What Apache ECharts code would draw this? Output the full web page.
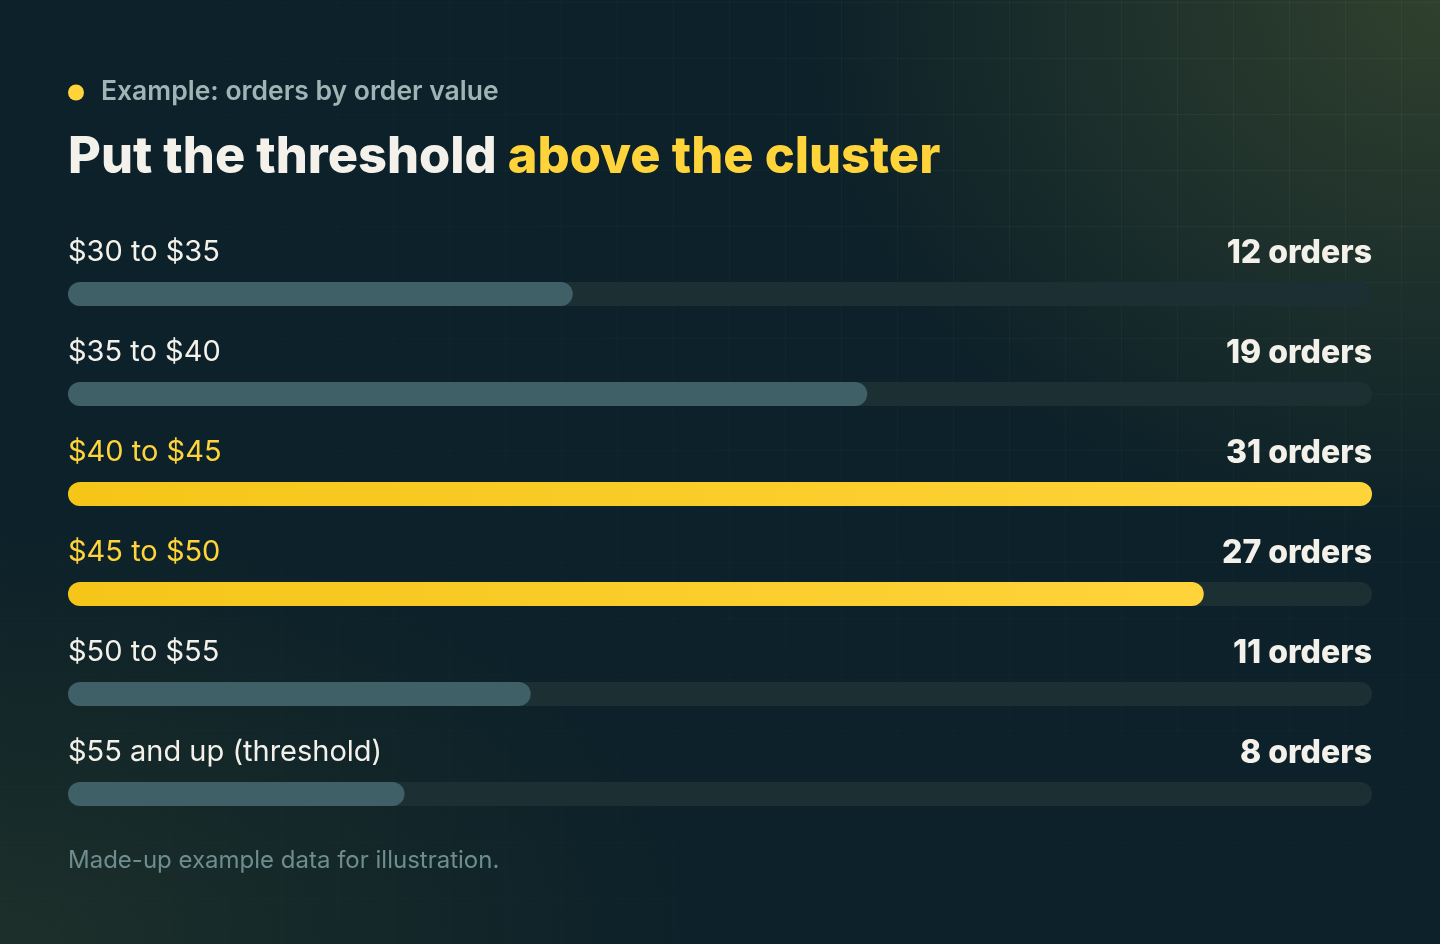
<!DOCTYPE html>
<html>
<head>
<meta charset="utf-8">
<script src="https://cdn.jsdelivr.net/npm/echarts@6/dist/echarts.min.js"></script>
<style>
  html, body { margin: 0; padding: 0; width: 1440px; height: 944px; overflow: hidden; }
  body {
    position: relative;
    background:
      radial-gradient(ellipse 640px 540px at 100% 0%, rgba(52,68,46,0.9), rgba(52,68,46,0) 100%),
      radial-gradient(ellipse 700px 420px at 0% 100%, rgba(34,52,42,0.75), rgba(34,52,42,0) 100%),
      #0c2129;
  }
  #grid {
    position: absolute; inset: 0;
    background-image:
      linear-gradient(to right, rgba(255,255,255,0.04) 1px, transparent 1px),
      linear-gradient(to bottom, rgba(255,255,255,0.04) 1px, transparent 1px);
    background-size: 56px 56px;
    background-position: 1px 2px;
    -webkit-mask-image: radial-gradient(ellipse 1100px 800px at 85% 10%, #000 0%, rgba(0,0,0,0.4) 70%, rgba(0,0,0,0.25) 100%);
    mask-image: radial-gradient(ellipse 1100px 800px at 85% 10%, #000 0%, rgba(0,0,0,0.4) 70%, rgba(0,0,0,0.25) 100%);
  }
  #chart { position: absolute; left: 0; top: 0; width: 1440px; height: 944px; }
</style>
</head>
<body>
<div id="grid"></div>
<div id="chart"></div>
<script>
const categories = ['$30 to $35', '$35 to $40', '$40 to $45', '$45 to $50', '$50 to $55', '$55 and up (threshold)'];
const orders = [12, 19, 31, 27, 11, 8];
const highlighted = [false, false, true, true, false, false];
const valueLabels = ['12 orders', '19 orders', '31 orders', '27 orders', '11 orders', '8 orders'];

const CREAM = '#f4f1ea';
const YELLOW = '#ffd43b';
const GRAY = '#3e6066';
const TRACK = '#1c3034';
const FONT = 'Inter, "Noto Sans", sans-serif';

const yellowGrad = new echarts.graphic.LinearGradient(0, 0, 1, 0, [
  { offset: 0, color: '#f5c518' },
  { offset: 1, color: '#ffd43b' }
]);

const barData = orders.map((v, i) => ({
  value: v,
  itemStyle: { color: highlighted[i] ? yellowGrad : GRAY },
  label: { color: highlighted[i] ? YELLOW : CREAM }
}));

const chart = echarts.init(document.getElementById('chart'), null, { renderer: 'canvas' });
chart.setOption({
  backgroundColor: 'transparent',
  animation: false,
  title: [
    {
      left: 68, top: 79, padding: 0,
      text: '{dot|}{t|Example: orders by order value}',
      textStyle: {
        rich: {
          dot: { width: 16, height: 16, borderRadius: 8, backgroundColor: YELLOW },
          t: { fontFamily: FONT, fontSize: 26.5, fontWeight: 600, color: '#9fb5b5', padding: [0, 0, 0, 17] }
        }
      }
    },
    {
      left: 68, top: 132, padding: 0,
      text: '{a|Put the threshold }{b|above the cluster}',
      textStyle: {
        rich: {
          a: { fontFamily: FONT, fontSize: 50.5, fontWeight: 800, color: CREAM, letterSpacing: -2.1 },
          b: { fontFamily: FONT, fontSize: 50.5, fontWeight: 800, color: YELLOW, letterSpacing: -2.1 }
        }
      }
    },
    {
      left: 68, top: 849, padding: 0,
      text: 'Made-up example data for illustration.',
      textStyle: { fontFamily: FONT, fontSize: 24, fontWeight: 400, color: '#6f8d8f' }
    }
  ],
  grid: { left: 68, right: 68, top: 244, bottom: 100, containLabel: false },
  xAxis: { type: 'value', min: 0, max: 31, show: false },
  yAxis: [
    {
      type: 'category', data: categories, inverse: true,
      axisLine: { show: false }, axisTick: { show: false }, axisLabel: { show: false }, splitLine: { show: false }
    },
    {
      type: 'category', data: valueLabels, inverse: true, position: 'right',
      axisLine: { show: false }, axisTick: { show: false }, splitLine: { show: false },
      axisLabel: {
        inside: true, margin: 0, verticalAlign: 'bottom', padding: [0, 0, 25, 0],
        fontFamily: FONT, fontSize: 32, fontWeight: 800, color: CREAM, letterSpacing: -0.5
      }
    }
  ],
  series: [
    {
      type: 'bar',
      data: barData,
      barWidth: 24,
      showBackground: true,
      backgroundStyle: { color: TRACK, borderRadius: 12 },
      itemStyle: { borderRadius: 12 },
      label: {
        show: true,
        position: [0, -30],
        verticalAlign: 'middle',
        align: 'left',
        formatter: (p) => categories[p.dataIndex],
        fontFamily: FONT, fontSize: 29, fontWeight: 400
      }
    }
  ]
});
</script>
</body>
</html>
